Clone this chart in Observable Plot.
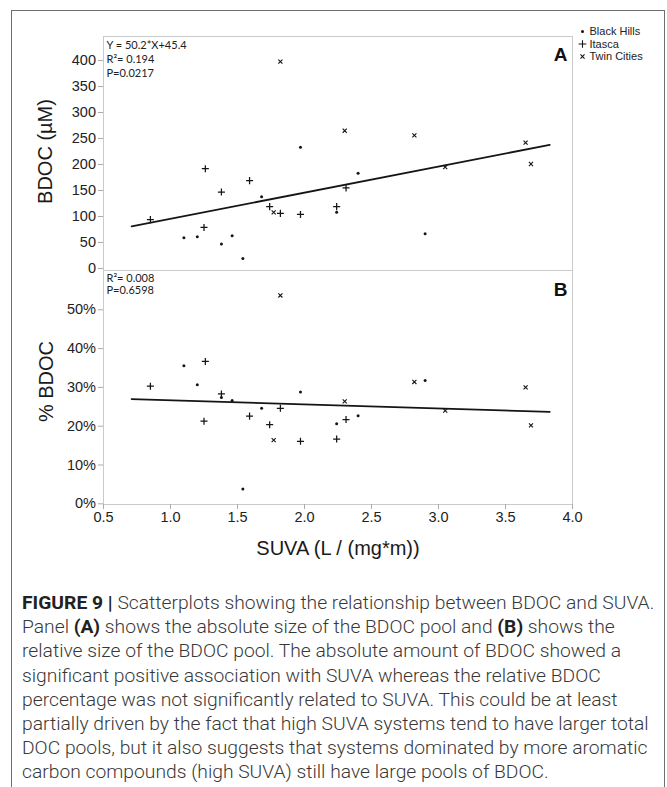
<!DOCTYPE html>
<html>
<head>
<meta charset="utf-8">
<script src="https://cdn.jsdelivr.net/npm/d3@7"></script>
<script src="https://cdn.jsdelivr.net/npm/@observablehq/plot@0.6"></script>
<style>
  html, body { margin: 0; padding: 0; background: #fff; }
  #page { position: relative; width: 667px; height: 787px; overflow: hidden; background: #fff; }
  #box { position: absolute; left: 11px; top: 10px; width: 654px; height: 800px; border: 1.5px solid #6e6e6e; box-sizing: border-box; }
  #panelA { position: absolute; left: 0; top: 0; }
  #panelB { position: absolute; left: 0; top: 270px; }
  #caption { position: absolute; left: 22px; top: 591px; font-family: "Roboto", "Liberation Sans", Arial, sans-serif; font-weight: 300; color: #383838; font-size: 17px; line-height: 24.2px; white-space: nowrap; }
  #caption b { font-weight: 700; color: #222; }
</style>
</head>
<body>
<div id="page">
  <div id="box"></div>
  <div id="panelA"></div>
  <div id="panelB"></div>
  <div id="caption">
    <div class="ln"><b>FIGURE 9 |</b> Scatterplots showing the relationship between BDOC and SUVA.</div>
    <div class="ln">Panel <b>(A)</b> shows the absolute size of the BDOC pool and <b>(B)</b> shows the</div>
    <div class="ln">relative size of the BDOC pool. The absolute amount of BDOC showed a</div>
    <div class="ln">significant positive association with SUVA whereas the relative BDOC</div>
    <div class="ln">percentage was not significantly related to SUVA. This could be at least</div>
    <div class="ln" id="widest">partially driven by the fact that high SUVA systems tend to have larger total</div>
    <div class="ln">DOC pools, but it also suggests that systems dominated by more aromatic</div>
    <div class="ln">carbon compounds (high SUVA) still have large pools of BDOC.</div>
  </div>
</div>
<script>
// ---- data ----
const series = ["Black Hills", "Itasca", "Twin Cities"];

const bhSuva = [1.10, 1.20, 1.38, 1.46, 1.54, 1.68, 1.97, 2.24, 2.40, 2.90];
const bhBdoc = [59, 61, 47, 63, 19, 138, 233, 108, 183, 67];
const bhPct  = [35.6, 30.7, 27.4, 26.6, 3.8, 24.6, 28.8, 20.6, 22.7, 31.8];

const itSuva = [0.85, 1.25, 1.26, 1.38, 1.59, 1.74, 1.82, 1.97, 2.24, 2.31];
const itBdoc = [94, 79, 192, 147, 169, 119, 106, 104, 119, 155];
const itPct  = [30.3, 21.3, 36.7, 28.3, 22.6, 20.4, 24.6, 16.1, 16.7, 21.7];

const tcSuva = [1.77, 1.82, 2.30, 2.82, 3.05, 3.65, 3.69];
const tcBdoc = [108, 398, 265, 256, 195, 242, 201];
const tcPct  = [16.4, 53.7, 26.4, 31.4, 24.0, 30.0, 20.2];

// fitted lines (end points)
const trendSuva = [0.71, 3.83];
const trendBdoc = [81.2, 237.7];
const trendPct  = [27.0, 23.7];

const xTicks  = [0.5, 1.0, 1.5, 2.0, 2.5, 3.0, 3.5, 4.0];
const yTicksA = [0, 50, 100, 150, 200, 250, 300, 350, 400];
const yTicksB = [0, 10, 20, 30, 40, 50];

const annotA = ["Y = 50.2*X+45.4", "R\u00b2= 0.194", "P=0.0217"];
const annotB = ["R\u00b2= 0.008", "P=0.6598"];

const xLabel  = "SUVA (L / (mg*m))";
const yLabelA = "BDOC (\u00b5M)";
const yLabelB = "% BDOC";

// ---- tables ----
const rows = (xs, ys) => xs.map((x, i) => ({x, y: ys[i]}));
const bhA = rows(bhSuva, bhBdoc), itA = rows(itSuva, itBdoc), tcA = rows(tcSuva, tcBdoc);
const bhB = rows(bhSuva, bhPct),  itB = rows(itSuva, itPct),  tcB = rows(tcSuva, tcPct);
const trA = rows(trendSuva, trendBdoc), trB = rows(trendSuva, trendPct);

const FONT = "'Liberation Sans', Arial, Helvetica, sans-serif";
const INK = "#151515";
const style = {fontFamily: FONT, fontSize: "14.5px", color: "#222", background: "transparent", overflow: "visible"};

function pointMarks(bh, it, tc) {
  return [
    Plot.dot(bh, {x: "x", y: "y", r: 1.5, fill: INK, stroke: null}),
    Plot.dot(it, {x: "x", y: "y", symbol: "plus", r: 2.4, stroke: INK, strokeWidth: 1.25, fill: "none"}),
    Plot.dot(tc, {x: "x", y: "y", symbol: "times", r: 2.0, stroke: INK, strokeWidth: 1.1, fill: "none"})
  ];
}

const legendSymbols = ["circle", "plus", "times"];
const legendDy = [-5, 7.5, 20];
const legendMarks = series.flatMap((name, i) => [
  i === 0
    ? Plot.dot([name], {frameAnchor: "top-right", dx: 10, dy: legendDy[i], r: 1.5, fill: INK, stroke: null})
    : Plot.dot([name], {frameAnchor: "top-right", dx: 10, dy: legendDy[i], symbol: legendSymbols[i], r: i === 1 ? 2.6 : 2.0, stroke: INK, strokeWidth: 1.1, fill: "none"}),
  Plot.text([name], {frameAnchor: "top-right", dx: 17, dy: legendDy[i], text: d => d, textAnchor: "start", lineAnchor: "middle", fontSize: 11, fill: "#222", fontFamily: FONT})
]);

const panelA = Plot.plot({
  width: 667, height: 270,
  marginLeft: 103, marginRight: 95, marginTop: 36, marginBottom: 0,
  style,
  x: {domain: [0.5, 4.0], axis: null},
  y: {domain: [-3.85, 446.2]},
  marks: [
    Plot.frame({stroke: "#cacaca"}),
    Plot.axisY({ticks: yTicksA, tickSize: 5, tickPadding: 2.5, stroke: "#aaa", fill: "#222", fontSize: 14.5, label: null}),
    Plot.line(trA, {x: "x", y: "y", stroke: INK, strokeWidth: 1.8}),
    ...pointMarks(bhA, itA, tcA),
    Plot.text([annotA.join("\n")], {frameAnchor: "top-left", text: d => d, dx: 3, dy: 3, lineAnchor: "top", textAnchor: "start", lineHeight: 1.27, fontSize: 11, fontFamily: "Lato, 'Open Sans', sans-serif", fill: "#222"}),
    Plot.text(["A"], {frameAnchor: "top-right", text: d => d, dx: -5, dy: 10.5, lineAnchor: "top", textAnchor: "end", fontSize: 19, fontWeight: "bold", fill: "#111"}),
    Plot.text([yLabelA], {frameAnchor: "left", text: d => d, rotate: -90, dx: -58, dy: -2, lineAnchor: "middle", textAnchor: "middle", fontSize: 20, fill: "#1a1a1a"}),
    ...legendMarks
  ]
});

const panelB = Plot.plot({
  width: 667, height: 290,
  marginLeft: 103, marginRight: 95, marginTop: 0, marginBottom: 56,
  style,
  x: {domain: [0.5, 4.0]},
  y: {domain: [-0.18, 60.13]},
  marks: [
    Plot.frame({stroke: "#cacaca"}),
    Plot.axisY({ticks: yTicksB, tickFormat: d => d + "%", tickSize: 5, tickPadding: 2.5, stroke: "#aaa", fill: "#222", fontSize: 14.5, label: null}),
    Plot.axisX({ticks: xTicks, tickFormat: d3.format(".1f"), tickSize: 5, tickPadding: 2, stroke: "#aaa", fill: "#222", fontSize: 14.5, label: null}),
    Plot.line(trB, {x: "x", y: "y", stroke: INK, strokeWidth: 1.8}),
    ...pointMarks(bhB, itB, tcB),
    Plot.text([annotB.join("\n")], {frameAnchor: "top-left", text: d => d, dx: 3, dy: 3, lineAnchor: "top", textAnchor: "start", lineHeight: 1.1, fontSize: 11, fontFamily: "Lato, 'Open Sans', sans-serif", fill: "#222"}),
    Plot.text(["B"], {frameAnchor: "top-right", text: d => d, dx: -5, dy: 12, lineAnchor: "top", textAnchor: "end", fontSize: 19, fontWeight: "bold", fill: "#111"}),
    Plot.text([yLabelB], {frameAnchor: "left", text: d => d, rotate: -90, dx: -57, dy: -6, lineAnchor: "middle", textAnchor: "middle", fontSize: 20, fill: "#1a1a1a"}),
    Plot.text([xLabel], {frameAnchor: "bottom", text: d => d, dy: 44, lineAnchor: "middle", textAnchor: "middle", fontSize: 20, fill: "#1a1a1a"})
  ]
});

document.getElementById("panelA").appendChild(panelA);
document.getElementById("panelB").appendChild(panelB);

// fit caption font so the widest line spans the same width as in the reference
const cap = document.getElementById("caption");
const w = document.getElementById("widest");
w.style.display = "inline-block";
const measured = w.getBoundingClientRect().width;
w.style.display = "";
if (measured > 0) cap.style.fontSize = (17 * 627 / measured).toFixed(2) + "px";
</script>
</body>
</html>
